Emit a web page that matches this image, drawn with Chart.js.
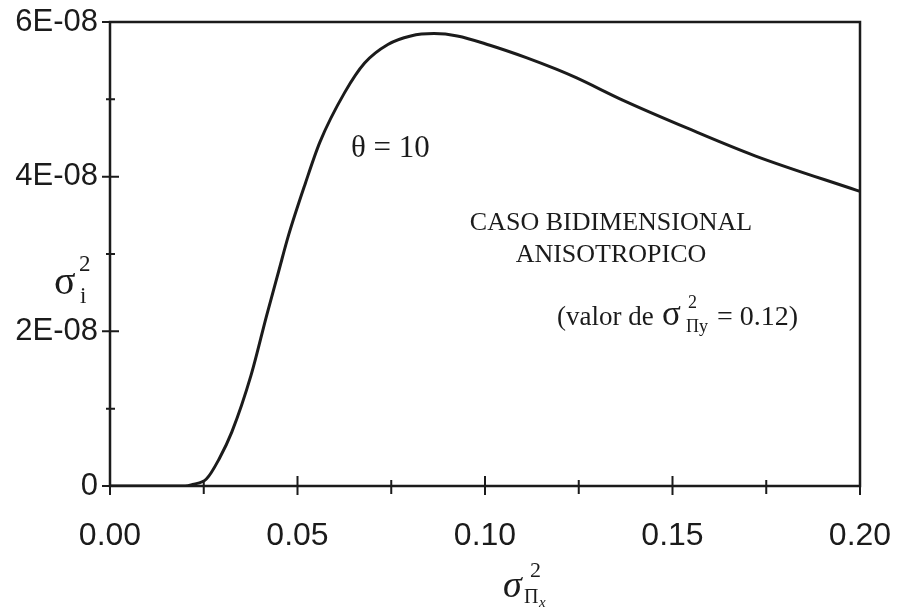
<!DOCTYPE html>
<html>
<head>
<meta charset="utf-8">
<script src="https://cdn.jsdelivr.net/npm/chart.js@4"></script>
<style>
  html, body { margin: 0; padding: 0; background: #fff; }
  #wrap { width: 897px; height: 615px; }
</style>
</head>
<body>
<div id="wrap"><canvas id="c"></canvas></div>
<script>
// ---- data ----
const xValues = [0, 0.010, 0.020, 0.022, 0.0257, 0.0291, 0.0325, 0.0376, 0.0418, 0.045, 0.0476, 0.052, 0.056, 0.0626, 0.0679, 0.0741, 0.0802, 0.0864, 0.0926, 0.1013, 0.111, 0.119, 0.1243, 0.1367, 0.1543, 0.172, 0.1975, 0.200];
const yValues = [0, 0, 0, 0.02e-8, 0.09e-8, 0.35e-8, 0.70e-8, 1.43e-8, 2.21e-8, 2.78e-8, 3.24e-8, 3.90e-8, 4.45e-8, 5.09e-8, 5.47e-8, 5.71e-8, 5.82e-8, 5.85e-8, 5.82e-8, 5.70e-8, 5.54e-8, 5.39e-8, 5.28e-8, 4.99e-8, 4.62e-8, 4.27e-8, 3.85e-8, 3.81e-8];
const xMajorTicks = [0, 0.05, 0.10, 0.15, 0.20];
const xTickLabels = ['0.00', '0.05', '0.10', '0.15', '0.20'];
const xMinorTicks = [0.025, 0.075, 0.125, 0.175];
const yMajorTicks = [0, 2e-8, 4e-8, 6e-8];
const yTickLabels = ['0', '2E-08', '4E-08', '6E-08'];
const yMinorTicks = [1e-8, 3e-8, 5e-8];

const points = xValues.map((x, i) => ({ x: x, y: yValues[i] }));
const INK = '#1b1b1b';

const framePlugin = {
  id: 'frame',
  afterDraw(chart) {
    const ctx = chart.ctx;
    const a = chart.chartArea;
    const xs = chart.scales.x, ys = chart.scales.y;
    ctx.save();
    ctx.strokeStyle = INK;
    ctx.lineWidth = 2.5;
    ctx.strokeRect(a.left, a.top, a.right - a.left, a.bottom - a.top);
    ctx.lineWidth = 2;
    ctx.beginPath();
    xMajorTicks.forEach(v => {
      const p = xs.getPixelForValue(v);
      ctx.moveTo(p, a.bottom - 10); ctx.lineTo(p, a.bottom + 9);
    });
    xMinorTicks.forEach(v => {
      const p = xs.getPixelForValue(v);
      ctx.moveTo(p, a.bottom - 6); ctx.lineTo(p, a.bottom + 8);
    });
    yMajorTicks.forEach(v => {
      const p = ys.getPixelForValue(v);
      ctx.moveTo(a.left - 8, p); ctx.lineTo(a.left + 9, p);
    });
    yMinorTicks.forEach(v => {
      const p = ys.getPixelForValue(v);
      ctx.moveTo(a.left - 4, p); ctx.lineTo(a.left + 5, p);
    });
    ctx.stroke();

    // annotations
    ctx.fillStyle = INK;
    ctx.textBaseline = 'alphabetic';
    ctx.textAlign = 'left';
    const serif = '"Liberation Serif", "DejaVu Serif", serif';
    ctx.font = '31px ' + serif;
    ctx.fillText('\u03B8 = 10', 351, 157);

    ctx.textAlign = 'center';
    ctx.font = '26px ' + serif;
    ctx.fillText('CASO BIDIMENSIONAL', 611, 230);
    ctx.fillText('ANISOTROPICO', 611, 262);

    // (valor de σ²Πy = 0.12)
    ctx.textAlign = 'left';
    const by = 325;
    ctx.font = '27px ' + serif;
    ctx.fillText('(valor de', 557, by);
    ctx.font = '35px ' + serif;
    ctx.fillText('\u03C3', 662, by);
    ctx.font = '18px ' + serif;
    ctx.fillText('2', 688, by - 17);
    ctx.fillText('\u03A0y', 686, by + 7);
    ctx.font = '28px ' + serif;
    ctx.fillText('= 0.12)', 717, by);

    // y axis title σ²i
    ctx.font = '40px ' + serif;
    ctx.fillText('\u03C3', 54, 294);
    ctx.font = '23px ' + serif;
    ctx.fillText('2', 79, 271);
    ctx.fillText('i', 80, 303);

    // x axis title σ²Πx
    ctx.font = 'italic 38px ' + serif;
    ctx.fillText('\u03C3', 503, 597);
    ctx.font = '22px ' + serif;
    ctx.fillText('2', 530, 577);
    ctx.font = '20px ' + serif;
    ctx.fillText('\u03A0', 524, 603);
    ctx.font = 'italic 15px ' + serif;
    ctx.fillText('x', 539, 607);
    ctx.restore();
  }
};

new Chart(document.getElementById('c'), {
  type: 'scatter',
  data: {
    datasets: [{
      data: points,
      showLine: true,
      borderColor: INK,
      borderWidth: 3,
      pointRadius: 0,
      cubicInterpolationMode: 'monotone',
      fill: false
    }]
  },
  options: {
    responsive: true,
    maintainAspectRatio: false,
    animation: false,
    devicePixelRatio: 1,
    layout: { padding: { top: 22, right: 37, left: 0, bottom: 0 } },
    plugins: { legend: { display: false }, tooltip: { enabled: false } },
    scales: {
      x: {
        type: 'linear',
        min: 0, max: 0.2,
        grid: { display: false, drawTicks: false },
        border: { display: false },
        afterBuildTicks(s) { s.ticks = xMajorTicks.map(v => ({ value: v })); },
        afterFit(s) { s.height = 129; s.paddingLeft = 0; s.paddingRight = 0; },
        ticks: {
          padding: 31,
          color: INK,
          maxRotation: 0,
          autoSkip: false,
          font: { family: '"Liberation Sans", Arial, sans-serif', size: 32 },
          callback(v) { const i = xMajorTicks.indexOf(v); return i >= 0 ? xTickLabels[i] : ''; }
        }
      },
      y: {
        type: 'linear',
        min: 0, max: 6e-8,
        grid: { display: false, drawTicks: false },
        border: { display: false },
        afterBuildTicks(s) { s.ticks = yMajorTicks.map(v => ({ value: v })); },
        afterFit(s) { s.width = 110; s.paddingTop = 0; s.paddingBottom = 0; },
        ticks: {
          padding: 12,
          color: INK,
          autoSkip: false,
          font: { family: '"Liberation Sans", Arial, sans-serif', size: 31 },
          callback(v) { const i = yMajorTicks.indexOf(v); return i >= 0 ? yTickLabels[i] : ''; }
        }
      }
    }
  },
  plugins: [framePlugin]
});
</script>
</body>
</html>
